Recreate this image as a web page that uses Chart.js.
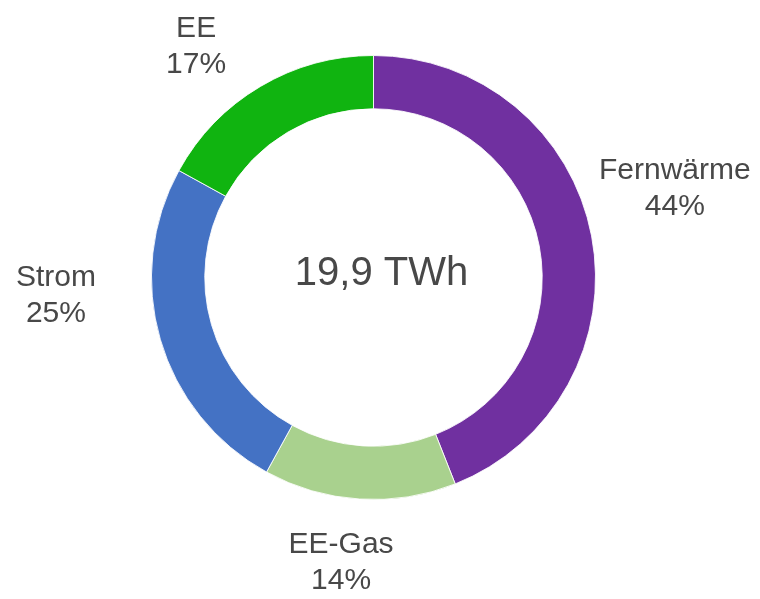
<!DOCTYPE html>
<html>
<head>
<meta charset="utf-8">
<script src="https://cdn.jsdelivr.net/npm/chart.js@4/dist/chart.umd.min.js"></script>
<style>
  html, body { margin: 0; padding: 0; background: #fff; }
  #wrap { width: 760px; height: 599px; }
</style>
</head>
<body>
<div id="wrap"><canvas id="chart" width="760" height="599"></canvas></div>
<script>
const categories = ['Fernwärme', 'EE-Gas', 'Strom', 'EE'];
const shares = [44, 14, 25, 17];
const totalLabel = '19,9 TWh';
const colors = ['#7030A0', '#A9D18E', '#4472C4', '#10B410'];

// nudges for the outside labels (Excel-style placement)
const nudges = [[44, -42], [-16, 22], [-66, -57], [-44, -7]];

const labelPlugin = {
    id: 'labels',
    afterDatasetsDraw(chart) {
        const ctx = chart.ctx;
        const arcs = chart.getDatasetMeta(0).data;
        ctx.save();
        ctx.fillStyle = '#484848';
        ctx.textAlign = 'center';
        ctx.textBaseline = 'alphabetic';

        arcs.forEach((arc, i) => {
            const mid = (arc.startAngle + arc.endAngle) / 2;
            const r = arc.outerRadius + 40;
            const cx = arc.x + Math.cos(mid) * r + nudges[i][0];
            const cy = arc.y + Math.sin(mid) * r + nudges[i][1];
            ctx.font = '30px "Liberation Sans", Arial, sans-serif';
            ctx.fillText(categories[i], cx, cy - 18 + 10.5);
            ctx.fillText(shares[i] + '%', cx, cy + 18 + 10.5);
        });

        const c = arcs[0];
        ctx.font = '40px "Liberation Sans", Arial, sans-serif';
        ctx.fillText(totalLabel, c.x + 8, c.y - 7 + 14);
        ctx.restore();
    }
};

new Chart(document.getElementById('chart').getContext('2d'), {
    type: 'doughnut',
    data: {
        labels: categories,
        datasets: [{
            data: shares,
            backgroundColor: colors,
            borderColor: 'rgba(255,255,255,0.85)',
            borderWidth: 1
        }]
    },
    options: {
        responsive: false,
        animation: false,
        cutout: '76%',
        layout: { padding: { top: 55, bottom: 99, left: 151, right: 164 } },
        plugins: {
            legend: { display: false },
            tooltip: { enabled: false }
        }
    },
    plugins: [labelPlugin]
});
</script>
</body>
</html>
